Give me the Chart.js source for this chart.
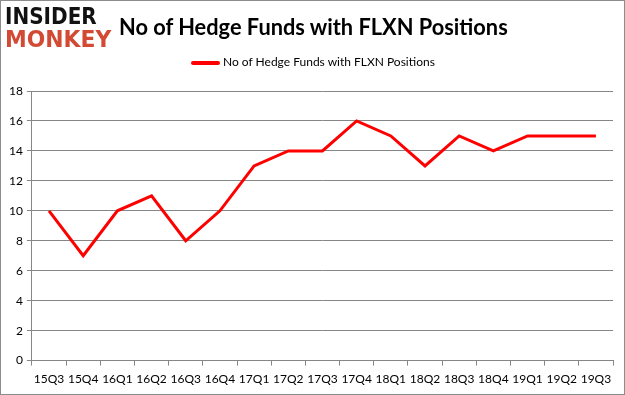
<!DOCTYPE html>
<html>
<head>
<meta charset="utf-8">
<script src="https://cdn.jsdelivr.net/npm/chart.js@4/dist/chart.umd.min.js"></script>
<style>
  body { margin: 0; background: #fff; }
  #wrap { position: relative; width: 625px; height: 395px; box-sizing: border-box; border: 1px solid #8c8c8c; }
  #myChart { position: absolute; left: 0; top: 0; }
  .logo { position: absolute; left: 4px; font-family: "DejaVu Sans", sans-serif; font-weight: bold; font-size: 23px; line-height: 1; transform-origin: left top; }
  #logo1 { top: 4px; color: #111; transform: scaleX(0.87); }
  #logo2 { top: 27px; color: #d24a34; transform: scaleX(0.95); }
  #title { position: absolute; left: 118px; top: 12px; font-family: Lato, "Open Sans", sans-serif; font-weight: bold; font-size: 22px; color: #000; transform: scaleX(0.99); transform-origin: left top; }
  #legend { position: absolute; left: 190px; top: 53px; font-family: Lato, "Open Sans", sans-serif; font-size: 12px; color: #000; }
  #legend span.ln { display: inline-block; width: 29px; height: 4px; background: #ff0000; vertical-align: middle; margin-right: 3px; border-radius: 2px; }
</style>
</head>
<body>
<div id="wrap">
  <canvas id="myChart" width="623" height="393"></canvas>
  <div class="logo" id="logo1">INSIDER</div>
  <div class="logo" id="logo2">MONKEY</div>
  <div id="title">No of Hedge Funds with FLXN Positions</div>
  <div id="legend"><span class="ln"></span>No of Hedge Funds with FLXN Positions</div>
</div>
<script>
// Datos del gráfico
const quarters = ['15Q3', '15Q4', '16Q1', '16Q2', '16Q3', '16Q4', '17Q1', '17Q2', '17Q3',
  '17Q4', '18Q1', '18Q2', '18Q3', '18Q4', '19Q1', '19Q2', '19Q3'];
const hedgeFunds = [10, 7, 10, 11, 8, 10, 13, 14, 14, 16, 15, 13, 15, 14, 15, 15, 15];
const yTicks = [0, 2, 4, 6, 8, 10, 12, 14, 16, 18];

const canvas = document.getElementById('myChart');
const ctx = canvas.getContext('2d');

const myChart = new Chart(ctx, {
  type: 'line',
  data: {
    labels: quarters,
    datasets: [{
      label: 'No of Hedge Funds with FLXN Positions',
      data: hedgeFunds,
      borderColor: '#ff0000',
      borderWidth: 3,
      pointRadius: 0,
      tension: 0
    }]
  },
  options: {
    responsive: false,
    animation: false,
    layout: { padding: { top: 90, left: 4, right: 11, bottom: 2 } },
    plugins: {
      legend: { display: false },
      tooltip: { enabled: false }
    },
    scales: {
      x: {
        offset: true,
        grid: { offset: true, drawOnChartArea: false, color: '#868686', tickLength: 5 },
        border: { color: '#868686' },
        ticks: { color: '#000', font: { family: 'Lato, "Open Sans", sans-serif', size: 12 }, maxRotation: 0, autoSkip: false, padding: 6 }
      },
      y: {
        min: 0,
        max: 18,
        afterBuildTicks: axis => { axis.ticks = yTicks.map(v => ({ value: v })); },
        grid: { color: '#868686', tickLength: 5 },
        border: { color: '#868686' },
        ticks: { color: '#000', font: { family: 'Lato, "Open Sans", sans-serif', size: 12 }, padding: 4 }
      }
    }
  }
});
</script>
</body>
</html>
